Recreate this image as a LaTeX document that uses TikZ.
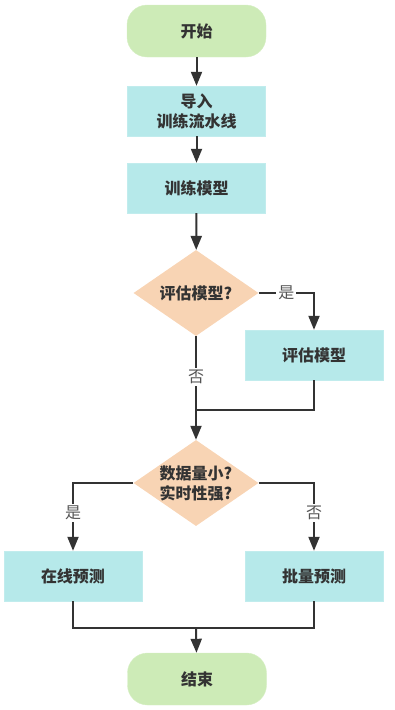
\documentclass[tikz,border=0pt]{standalone}
\usepackage{fontspec}
\setmainfont{Noto Sans CJK SC}
\usetikzlibrary{shapes.geometric,arrows.meta}
\definecolor{termfill}{HTML}{CDEBB7}
\definecolor{procfill}{HTML}{B6E9EA}
\definecolor{decfill}{HTML}{F8D4B4}
\definecolor{linec}{HTML}{333333}
\definecolor{lblc}{HTML}{555555}
\begin{document}
\begin{tikzpicture}[x=1pt,y=-1pt,
  every node/.style={font=\fontsize{16}{20}\selectfont\bfseries, text=linec, align=center},
  term/.style={fill=termfill, draw=termfill!80!white, rounded corners=20pt, minimum width=139pt, minimum height=52pt, inner sep=0pt},
  proc/.style={fill=procfill, draw=procfill!85!white, minimum width=138pt, minimum height=50pt, inner sep=0pt},
  dec/.style={diamond, fill=decfill, minimum width=125pt, minimum height=86pt, inner sep=0pt},
  lbl/.style={fill=white, text=lblc, font=\fontsize{16}{20}\selectfont, inner sep=2pt},
  conn/.style={draw=linec, line width=2pt},
  arr/.style={conn, -{Triangle[width=11pt,length=14pt]}}
]
\useasboundingbox (0,0) rectangle (394,710);
\node[term] (start) at (196.5,31) {开始};
\node[proc] (b1) at (196.5,111) {导入\\训练流水线};
\node[proc] (b2) at (196.5,188) {训练模型};
\node[dec, label={[font=\fontsize{16}{20}\selectfont\bfseries,text=linec]center:评估模型?}] (d1) at (196,293) {};
\node[proc] (b3) at (314,355) {评估模型};
\coordinate (m1) at (196,410);
\node[dec, label={[font=\fontsize{16}{20}\selectfont\bfseries,text=linec,align=center]center:数据量小?\\实时性强?}] (d2) at (196,483) {};
\node[proc] (b4) at (73,576) {在线预测};
\node[proc] (b5) at (314,576) {批量预测};
\coordinate (m2) at (196,628);
\node[term] (end) at (197,679) {结束};

\draw[arr] (start) -- (b1);
\draw[arr] (b1) -- (b2);
\draw[arr] (b2) -- (d1);
\draw[arr] (d1.east) -| node[lbl,pos=0.25]{是} (b3.north);
\draw[conn] (d1.south) -- node[lbl,pos=0.55]{否} (m1);
\draw[conn] (b3.south) |- (m1);
\draw[arr] (m1) -- (d2.north);
\draw[arr] (d2.west) -| node[lbl,pos=0.72]{是} (b4.north);
\draw[arr] (d2.east) -| node[lbl,pos=0.72]{否} (b5.north);
\draw[conn] (b4.south) |- (m2);
\draw[conn] (b5.south) |- (m2);
\draw[arr] (m2) -- (end);
\end{tikzpicture}
\end{document}
